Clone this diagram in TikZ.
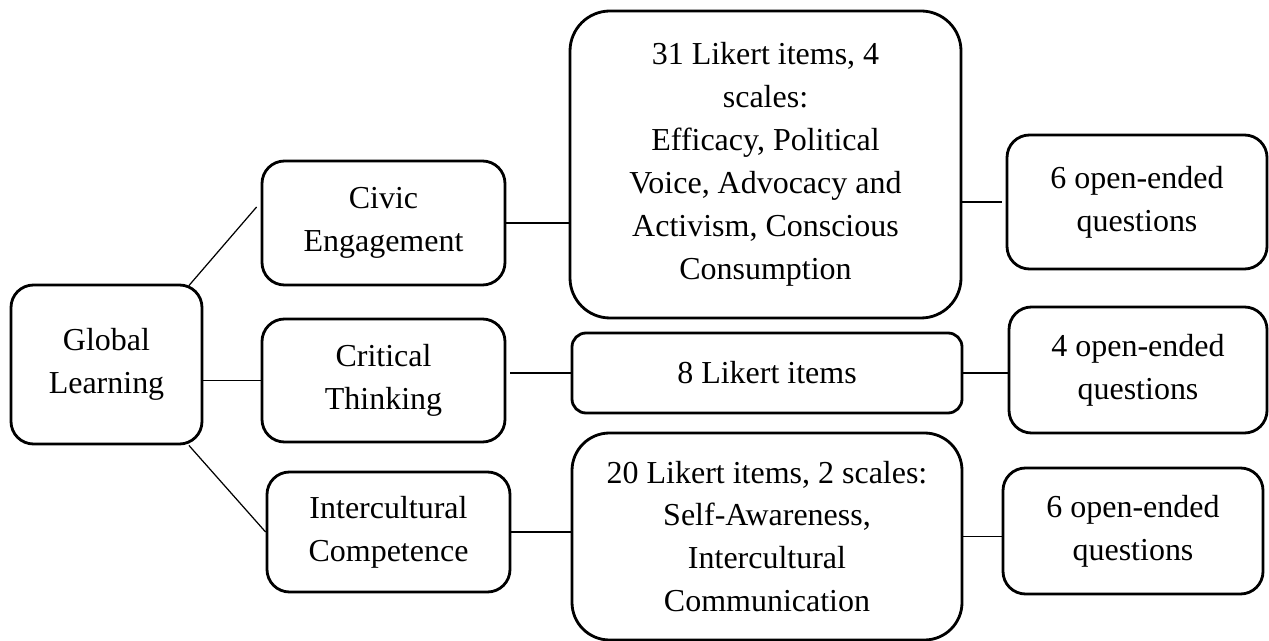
\documentclass[tikz,border=0pt]{standalone}
\usepackage{fontspec}
\setmainfont{Liberation Serif}
\usetikzlibrary{calc}
\tikzset{%
    bx/.style={draw, line width=1.6pt, rounded corners=0.45cm, align=center, inner sep=0pt,
        font=\fontsize{18.2}{24.4}\selectfont},
    ln/.style={line width=0.7pt}
}

\begin{document}
\begin{tikzpicture}
        \useasboundingbox (0,0) rectangle (25.38,12.82);

        \node[bx, minimum width=3.82cm, minimum height=3.18cm] (g) at (2.13,5.53){Global\\Learning};

        \node[bx, minimum width=4.86cm, minimum height=2.48cm] (c1) at (7.67,8.36){Civic\\Engagement};
        \node[bx, minimum width=4.86cm, minimum height=2.46cm] (c2) at (7.67,5.21){Critical\\Thinking};
        \node[bx, minimum width=4.86cm, minimum height=2.40cm] (c3) at (7.77,2.18){Intercultural\\Competence};

        \node[bx, rounded corners=0.8cm, minimum width=7.82cm, minimum height=6.14cm] (s1) at (15.31,9.53){31 Likert items, 4\\scales:\\Efficacy, Political\\Voice, Advocacy and\\Activism, Conscious\\Consumption};
        \node[bx, rounded corners=0.28cm, minimum width=7.80cm, minimum height=1.60cm] (s2) at (15.34,5.36){8 Likert items};
        \node[bx, rounded corners=0.75cm, minimum width=7.80cm, minimum height=4.14cm] (s3) at (15.34,2.09){20 Likert items, 2 scales:\\Self-Awareness,\\Intercultural\\Communication};

        \node[bx, minimum width=5.20cm, minimum height=2.68cm] (q1) at (22.74,8.78){6 open-ended\\questions};
        \node[bx, minimum width=5.16cm, minimum height=2.52cm] (q2) at (22.76,5.42){4 open-ended\\questions};
        \node[bx, minimum width=5.20cm, minimum height=2.52cm] (q3) at (22.66,2.20){6 open-ended\\questions};

        \draw[ln] ($(g.north east)+(-0.29,-0.04)$) -- ($(c1.west)+(-0.08,0.32)$);
        \draw[ln] (c2.west) -- (c2.west -| g.east);
        \draw[ln] ($(g.south east)+(-0.29,0)$) -- (c3.west);
        \draw[ln] (c1.east) -- (c1.east -| s1.west);
        \draw[ln] (s2.west) -- ([xshift=0.08cm]s2.west -| c2.east);
        \draw[ln] (c3.east) -- (c3.east -| s3.west);
        \draw[ln] ([xshift=-0.08cm]q1.west) -- (q1.west -| s1.east);
        \draw[ln] (s2.east) -- (s2.east -| q2.west);
        \draw[ln] (s3.east) -- (s3.east -| q3.west);
    \end{tikzpicture}
\end{document}
